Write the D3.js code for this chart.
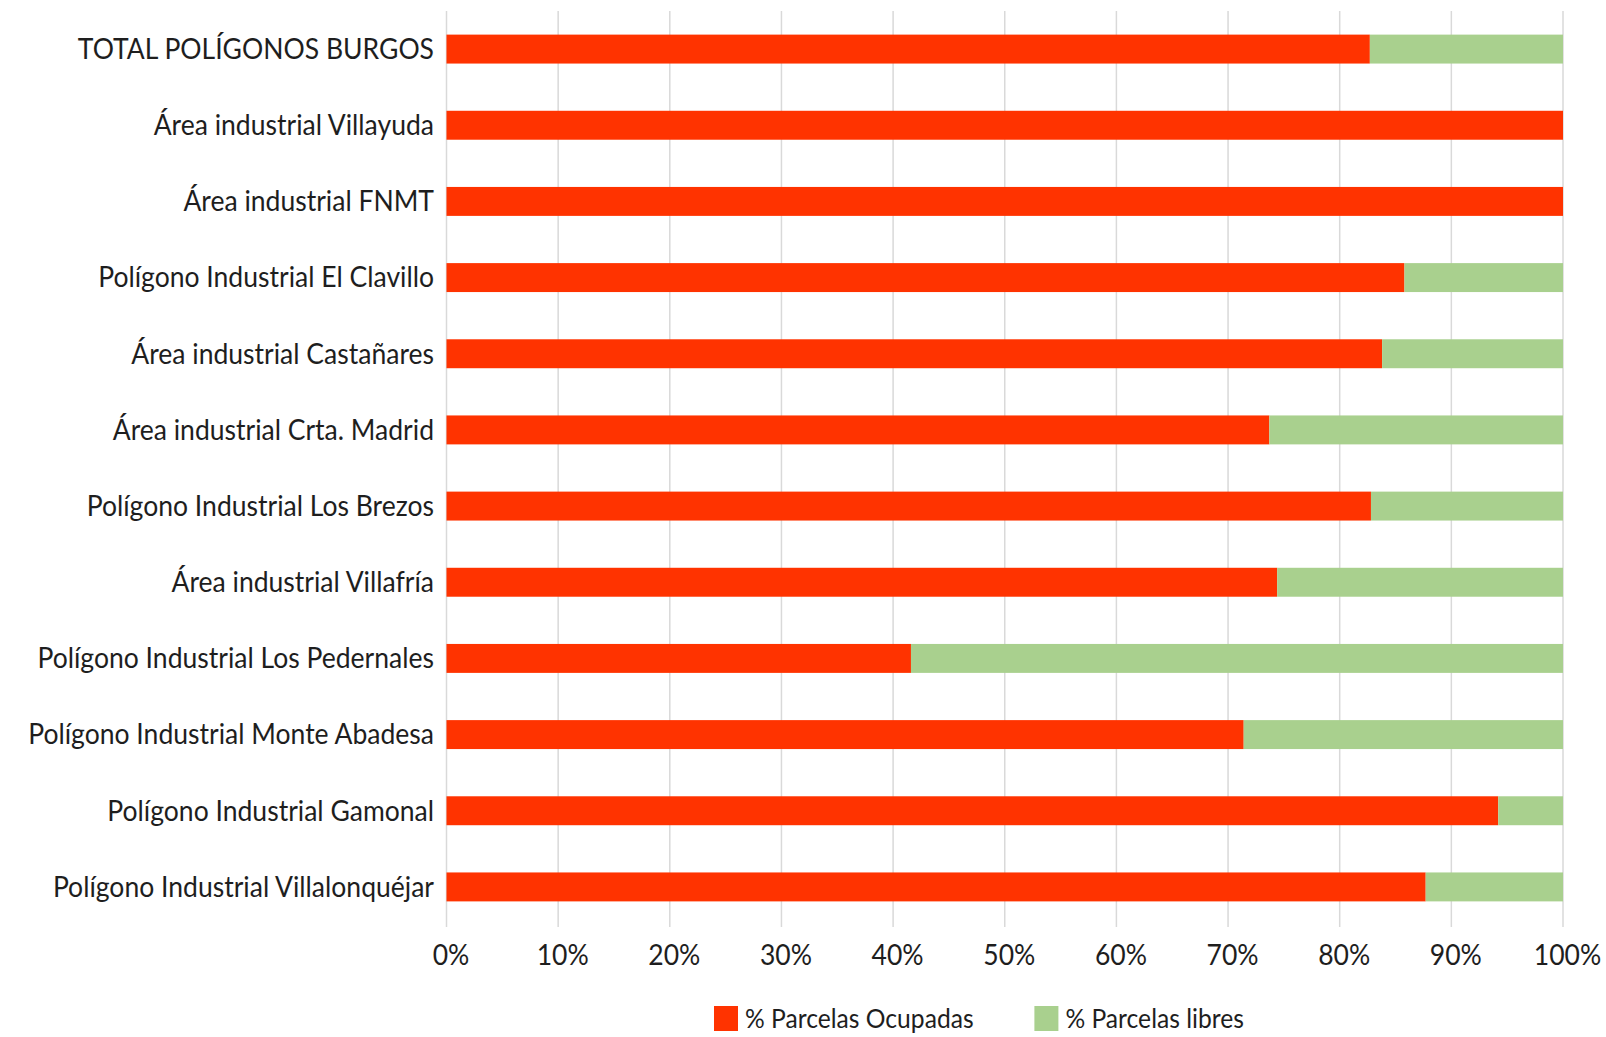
<!DOCTYPE html>
<html>
<head>
<meta charset="utf-8">
<script src="https://cdn.jsdelivr.net/npm/d3@7"></script>
<style>
  html, body { margin: 0; padding: 0; background: #ffffff; }
  svg { display: block; }
  text { font-family: Lato, "Open Sans", sans-serif; fill: #1e1e1e; }
</style>
</head>
<body>
<svg id="chart" width="1606" height="1037"></svg>
<script>
// ---- data ----
const categories = [
  "TOTAL POLÍGONOS BURGOS",
  "Área industrial Villayuda",
  "Área industrial FNMT",
  "Polígono Industrial El Clavillo",
  "Área industrial Castañares",
  "Área industrial Crta. Madrid",
  "Polígono Industrial Los Brezos",
  "Área industrial Villafría",
  "Polígono Industrial Los Pedernales",
  "Polígono Industrial Monte Abadesa",
  "Polígono Industrial Gamonal",
  "Polígono Industrial Villalonquéjar"
];
const occupied = [82.7, 100, 100, 85.8, 83.8, 73.7, 82.8, 74.4, 41.6, 71.4, 94.2, 87.7];
const free     = [17.3, 0, 0, 14.2, 16.2, 26.3, 17.2, 25.6, 58.4, 28.6, 5.8, 12.3];
const seriesNames = ["% Parcelas Ocupadas", "% Parcelas libres"];
const seriesColors = ["#ff3300", "#a9d08e"];
const tickValues = [0, 10, 20, 30, 40, 50, 60, 70, 80, 90, 100];
const tickLabels = ["0%", "10%", "20%", "30%", "40%", "50%", "60%", "70%", "80%", "90%", "100%"];

// ---- layout ----
const svg = d3.select("#chart");
const plotLeft = 446.5, plotRight = 1563, plotTop = 11, plotBottom = 925;
const fontSize = 28;

const rows = categories.map((c, i) => ({ cat: c, occ: occupied[i], free: free[i] }));
const stack = d3.stack().keys(["occ", "free"]);
const stacked = stack(rows);

const x = d3.scaleLinear().domain([0, 100]).range([plotLeft, plotRight]);
const y = d3.scaleBand().domain(categories).range([plotTop, plotBottom])
  .paddingInner(0.62).paddingOuter(0.31);

// gridlines
svg.append("g").selectAll("line").data(tickValues).join("line")
  .attr("x1", d => x(d)).attr("x2", d => x(d))
  .attr("y1", plotTop).attr("y2", plotBottom + 2)
  .attr("stroke", "#d9d9d9").attr("stroke-width", 1.5);

// bars
svg.append("g").selectAll("g").data(stacked).join("g")
  .attr("fill", (d, i) => seriesColors[i])
  .selectAll("rect").data(d => d).join("rect")
  .attr("x", d => x(d[0]))
  .attr("width", d => Math.max(0, x(d[1]) - x(d[0])))
  .attr("y", d => y(d.data.cat))
  .attr("height", y.bandwidth());

// y axis labels
const yAxis = svg.append("g").attr("transform", `translate(${plotLeft},0)`)
  .call(d3.axisLeft(y).tickSize(0).tickPadding(0));
yAxis.select(".domain").remove();
yAxis.selectAll("text")
  .attr("font-size", fontSize).attr("font-family", null)
  .attr("x", 0).attr("dy", "0.35em");

// compute horizontal compression so the widest label matches the reference width
let maxW = 0;
yAxis.selectAll("text").each(function () { maxW = Math.max(maxW, this.getComputedTextLength()); });
const k = 406 / maxW;
yAxis.selectAll("text").attr("transform", `translate(-12.5,0) scale(${k},1)`);

// x axis labels
const xAxis = svg.append("g").attr("transform", `translate(0,${plotBottom})`)
  .call(d3.axisBottom(x).tickValues(tickValues).tickFormat((d, i) => tickLabels[i]).tickSize(0).tickPadding(0));
xAxis.select(".domain").remove();
xAxis.selectAll("text")
  .attr("font-size", fontSize).attr("font-family", null)
  .attr("y", 0).attr("dy", "0.35em")
  .attr("transform", `translate(4,30) scale(${k},1)`);

// legend
const legendX = [714, 1034.4];
const legendY = 1006;
const lg = svg.append("g").selectAll("g").data(seriesNames).join("g")
  .attr("transform", (d, i) => `translate(${legendX[i]},${legendY})`);
lg.append("rect").attr("width", 24).attr("height", 25).attr("fill", (d, i) => seriesColors[i]);
lg.append("text").attr("font-size", 26).attr("dy", "0.35em")
  .attr("transform", `translate(31,13) scale(${k},1)`)
  .text(d => d);
</script>
</body>
</html>
